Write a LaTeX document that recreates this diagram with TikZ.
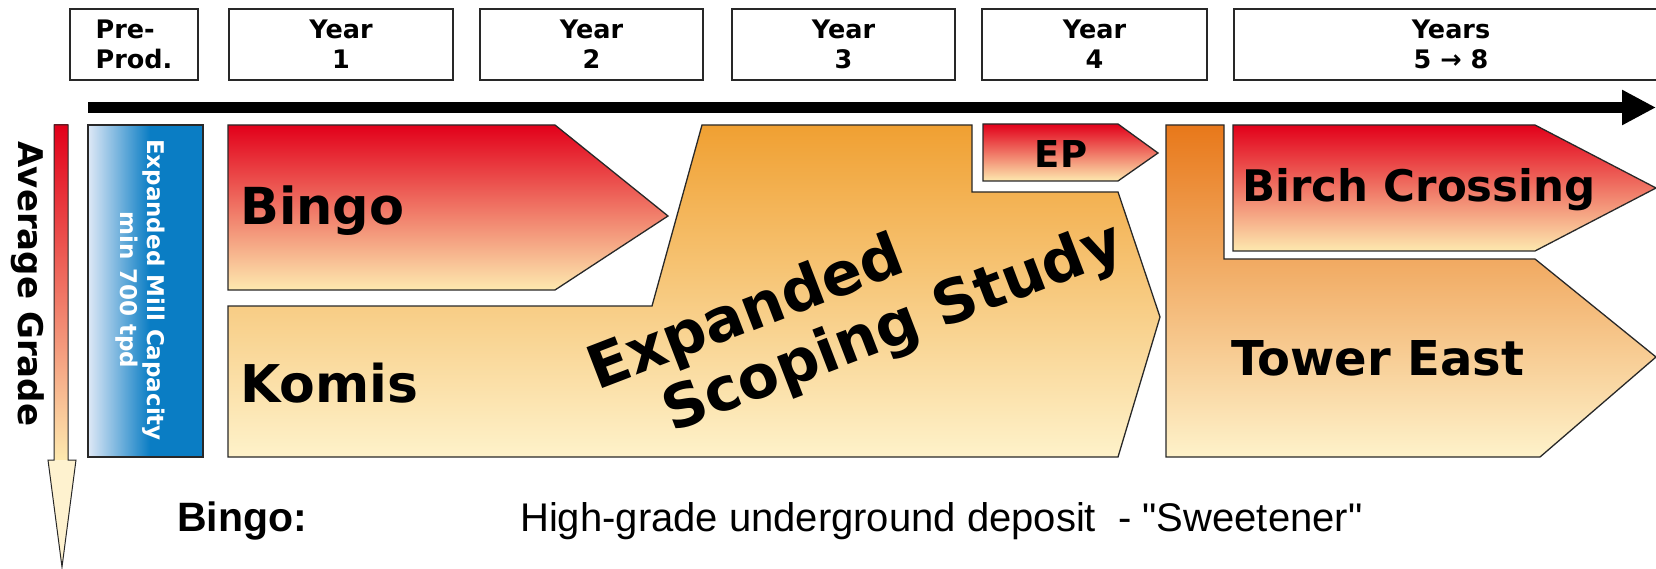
\documentclass[tikz,border=0pt]{standalone}
\usepackage{fontspec}
\setmainfont{Liberation Sans}
\newfontfamily\heavyfont{DejaVu Sans}
\newfontfamily\notefont{Liberation Sans}[Ligatures=TeXOff]
\usetikzlibrary{arrows.meta}
\definecolor{gradred}{RGB}{226,0,26}
\definecolor{gradorange}{RGB}{238,128,70}
\definecolor{gradpale}{RGB}{253,233,175}
\definecolor{komisorange}{RGB}{240,160,50}
\definecolor{komispale}{RGB}{254,242,202}
\definecolor{towerorange}{RGB}{232,120,26}
\definecolor{millblue}{RGB}{10,125,196}
\definecolor{millpale}{RGB}{222,232,246}
\definecolor{edgegray}{RGB}{40,40,40}

\tikzset{
  yearbox/.style={draw=edgegray, line width=1.6pt, minimum height=71pt, inner sep=0pt,
    align=center, font=\heavyfont\bfseries\fontsize{25.5}{30}\selectfont},
  hotpiece/.style={draw=edgegray, line width=1.3pt, top color=gradred,
    middle color=gradorange, bottom color=gradpale},
  warmpiece/.style={draw=edgegray, line width=1.3pt, bottom color=komispale},
  piecelabel/.style={anchor=base west, inner sep=0pt},
}

\begin{document}
\begin{tikzpicture}[x=1pt, y=-1pt]
    \useasboundingbox (0,0) rectangle (1656,569);
    \clip (0,0) rectangle (1656,569);

    % Year headers
    \node[yearbox, minimum width=128pt, align=left] (preprod) at (134,44.5) {Pre-\\Prod.};
    \node[yearbox, minimum width=224pt] (yr1) at (341,44.5) {Year\\1};
    \node[yearbox, minimum width=223pt] (yr2) at (591.5,44.5) {Year\\2};
    \node[yearbox, minimum width=223pt] (yr3) at (843.5,44.5) {Year\\3};
    \node[yearbox, minimum width=225pt] (yr4) at (1094.5,44.5) {Year\\4};
    \node[yearbox, minimum width=434pt] (yr58) at (1451,44.5) {Years\\5 → 8};

    % Time line
    \coordinate (tstart) at (88,107.5);
    \coordinate (tend) at (1656,107.5);
    \draw[line width=11pt, -{Triangle[length=34pt, width=33pt]}] (tstart) -- (tend);

    % Grade arrow
    \shade[top color=gradred, middle color=gradorange!70!gradpale, bottom color=gradpale]
        (54,125) rectangle (68,460);
    \fill[gradpale!60!white] (48,460) -- (76,460) -- (62,567) -- cycle;
    \draw[edgegray, line width=1pt] (54,125) -- (68,125) -- (68,460) -- (76,460)
        -- (62,567) -- (48,460) -- (54,460) -- cycle;
    \node[anchor=base, rotate=-90, inner sep=0pt,
        font=\heavyfont\bfseries\fontsize{34}{40}\selectfont] (grade) at (18,284) {Average Grade};

    % Mill capacity
    \fill[millblue] (88,125) rectangle (203,457);
    \shade[left color=millpale, right color=millblue] (88,125) rectangle (150,457);
    \draw[edgegray, line width=1.3pt] (88,125) rectangle (203,457);
    \node[rotate=-90, align=center, text=white, inner sep=0pt,
        font=\heavyfont\bfseries\fontsize{23}{27}\selectfont] (mill) at (140,290)
        {Expanded Mill Capacity\\min 700 tpd};

    % Bingo
    \draw[hotpiece] (228,125) -- (555,125) -- (668,216) -- (555,290) -- (228,290) -- cycle;
    \node[piecelabel, font=\heavyfont\bfseries\fontsize{51}{54}\selectfont] (bingo) at (240,225) {Bingo};

    % Komis and scoping study
    \draw[warmpiece, top color=komisorange] (228,306) -- (652,306) -- (702,125) -- (972,125)
        -- (972,192) -- (1118,192) -- (1160,317) -- (1118,457) -- (228,457) -- cycle;
    \node[piecelabel, font=\heavyfont\bfseries\fontsize{52}{56}\selectfont] (komis) at (240,402) {Komis};
    \node[rotate=21, align=left, inner sep=0pt,
        font=\heavyfont\bfseries\fontsize{60}{66}\selectfont] (scope) at (856,309)
        {Expanded\\\hspace*{55pt}Scoping Study};

    % EP
    \draw[hotpiece] (983,124) -- (1118,124) -- (1158,153) -- (1118,181) -- (983,181) -- cycle;
    \node[anchor=base, inner sep=0pt, font=\heavyfont\bfseries\fontsize{37}{42}\selectfont] (ep) at (1061,168) {EP};

    % Tower East
    \draw[warmpiece, top color=towerorange] (1166,125) -- (1224,125) -- (1224,259) -- (1535,259)
        -- (1656,357) -- (1540,457) -- (1166,457) -- cycle;
    \node[piecelabel, font=\heavyfont\bfseries\fontsize{48}{52}\selectfont] (tower) at (1231,375) {Tower East};

    % Birch Crossing
    \draw[hotpiece] (1233,125) -- (1535,125) -- (1656,188) -- (1535,251) -- (1233,251) -- cycle;
    \node[piecelabel, font=\heavyfont\bfseries\fontsize{43.5}{48}\selectfont] (birch) at (1242,202) {Birch Crossing};

    % Notes
    \node[piecelabel, font=\notefont\bfseries\fontsize{41}{48}\selectfont] (bingokey) at (177,531) {Bingo:};
    \node[piecelabel, font=\notefont\fontsize{40}{46}\selectfont] (bingonote) at (520,531)
        {High-grade underground deposit\ \ - "Sweetener"};
\end{tikzpicture}
\end{document}
